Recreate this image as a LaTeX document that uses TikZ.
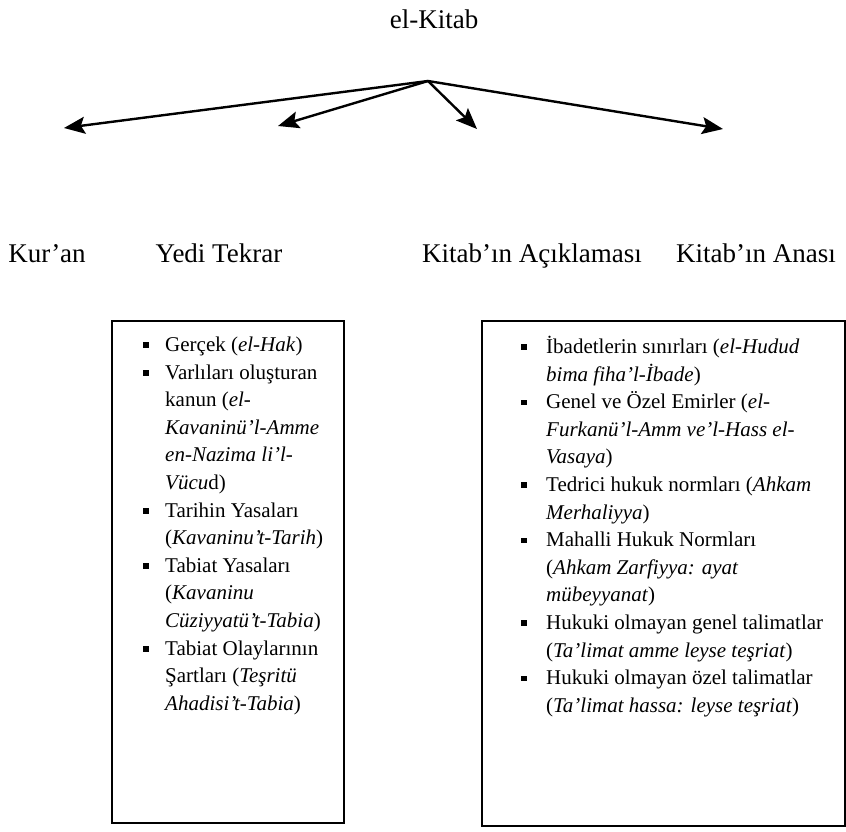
\documentclass[tikz,border=0pt]{standalone}
\usepackage{fontspec}
\setmainfont{Liberation Serif}
\usetikzlibrary{arrows.meta}
\newcommand{\sqb}{\raisebox{0.17em}{\rule{5.5pt}{5.5pt}}}
\begin{document}
\begin{tikzpicture}[x=1pt,y=-1pt,
  lbl/.style={font=\fontsize{27}{32}\selectfont, anchor=base, inner sep=0},
  boxnode/.style={draw, line width=2pt, inner sep=0, anchor=north west},
  arr/.style={line width=2.4pt, -{Stealth[length=21pt,width=17pt,inset=4pt]}},
  listnode/.style={anchor=north west, inner sep=0, font=\fontsize{21}{27.6}\selectfont}]
\useasboundingbox (0,0) rectangle (846,831);
\fill[white] (0,0) rectangle (846,831);
\node[lbl] (title) at (434,28) {el-Kitab};
\coordinate (o) at (428,81);
\node[lbl] (kuran) at (47,262) {Kur’an};
\node[lbl] (yedi) at (219,262) {Yedi Tekrar};
\node[lbl] (acik) at (532,262) {Kitab’ın Açıklaması};
\node[lbl] (anasi) at (756,262) {Kitab’ın Anası};
\coordinate (t1) at (64,128);
\coordinate (t2) at (278,126);
\coordinate (t3) at (477,129);
\coordinate (t4) at (723,129);
\draw[arr] (o) -- (t1);
\draw[arr] (o) -- (t2);
\draw[arr] (o) -- (t3);
\draw[arr] (o) -- (t4);
\node[boxnode, minimum width=232pt, minimum height=502pt] (lbox) at (111,320) {};
\node[boxnode, minimum width=363pt, minimum height=505pt] (rbox) at (481,320) {};
\node[listnode] (llist) at (143,332) {\begin{tabular}{@{}p{22pt}@{}l@{}}
\sqb & Gerçek (\textit{el-Hak})\\
\sqb & Varlıları oluşturan\\
& kanun (\textit{el-}\\
& \textit{Kavaninü’l-Amme}\\
& \textit{en-Nazima li’l-}\\
& \textit{Vücu}d)\\
\sqb & Tarihin Yasaları\\
& (\textit{Kavaninu’t-Tarih})\\
\sqb & Tabiat Yasaları\\
& (\textit{Kavaninu}\\
& \textit{Cüziyyatü’t-Tabia})\\
\sqb & Tabiat Olaylarının\\
& Şartları (\textit{Teşritü}\\
& \textit{Ahadisi’t-Tabia})
\end{tabular}};
\node[listnode] (rlist) at (521,334) {\begin{tabular}{@{}p{25pt}@{}l@{}}
\sqb & İbadetlerin sınırları (\textit{el-Hudud}\\
& \textit{bima fiha’l-İbade})\\
\sqb & Genel ve Özel Emirler (\textit{el-}\\
& \textit{Furkanü’l-Amm ve’l-Hass el-}\\
& \textit{Vasaya})\\
\sqb & Tedrici hukuk normları (\textit{Ahkam}\\
& \textit{Merhaliyya})\\
\sqb & Mahalli Hukuk Normları\\
& (\textit{Ahkam Zarfiyya: ayat}\\
& \textit{mübeyyanat})\\
\sqb & Hukuki olmayan genel talimatlar\\
& (\textit{Ta’limat amme leyse teşriat})\\
\sqb & Hukuki olmayan özel talimatlar\\
& (\textit{Ta’limat hassa: leyse teşriat})
\end{tabular}};
\end{tikzpicture}
\end{document}
